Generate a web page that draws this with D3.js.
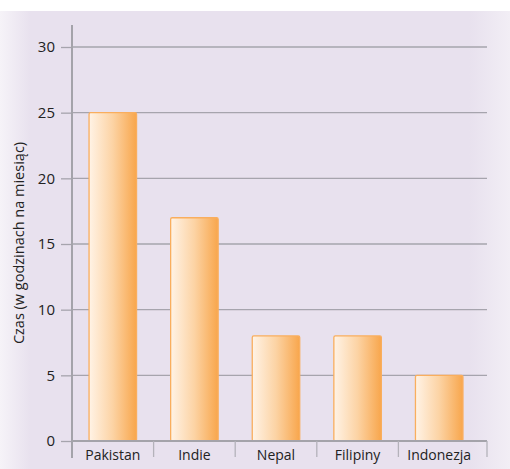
<!DOCTYPE html>
<html>
<head>
<meta charset="utf-8">
<script src="https://cdn.jsdelivr.net/npm/d3@7"></script>
<style>
  html, body { margin: 0; padding: 0; background: #ffffff; }
  svg { display: block; }
  text { font-family: "Open Sans", "DejaVu Sans", sans-serif; fill: #222; }
</style>
</head>
<body>
<script>
// Monthly time per country
const categories = ["Pakistan", "Indie", "Nepal", "Filipiny", "Indonezja"];
const values = [25, 17, 8, 8, 5];
const yTicks = [0, 5, 10, 15, 20, 25, 30];
const yLabel = "Czas (w godzinach na miesiąc)";

const W = 510, H = 469;
const svg = d3.select("body").append("svg").attr("width", W).attr("height", H);
const defs = svg.append("defs");

// panel background with faded side edges
const bg = defs.append("linearGradient").attr("id", "bg").attr("x1", 0).attr("x2", 1).attr("y1", 0).attr("y2", 0);
bg.append("stop").attr("offset", 0).attr("stop-color", "#f6f3f8");
bg.append("stop").attr("offset", 0.06).attr("stop-color", "#e8e1ee");
bg.append("stop").attr("offset", 0.92).attr("stop-color", "#e8e1ee");
bg.append("stop").attr("offset", 1).attr("stop-color", "#f2eef5");
svg.append("rect").attr("x", 0).attr("y", 11).attr("width", W).attr("height", H - 11).attr("fill", "url(#bg)");

// bar fill
const bar = defs.append("linearGradient").attr("id", "bar").attr("x1", 0).attr("x2", 1).attr("y1", 0).attr("y2", 0);
bar.append("stop").attr("offset", 0).attr("stop-color", "#fff3e6");
bar.append("stop").attr("offset", 0.5).attr("stop-color", "#fcd3a4");
bar.append("stop").attr("offset", 1).attr("stop-color", "#f8a64c");

const plotLeft = 72, plotRight = 487, plotTop = 47, plotBottom = 441;
const bandEnd = 480;
const x = d3.scaleBand().domain(categories).range([plotLeft, bandEnd]).paddingInner(0.418).paddingOuter(0.209);
const y = d3.scaleLinear().domain([0, 30]).range([plotBottom, plotTop]);

// gridlines
svg.append("g").selectAll("line").data(yTicks.filter(d => d > 0)).join("line")
  .attr("x1", plotLeft).attr("x2", plotRight)
  .attr("y1", d => y(d)).attr("y2", d => y(d))
  .attr("stroke", "#a6a4ad").attr("stroke-width", 1.3);

// y axis
const yAxis = svg.append("g").attr("transform", `translate(${plotLeft},0)`)
  .call(d3.axisLeft(y).tickValues(yTicks).tickSize(11).tickPadding(6));
yAxis.select(".domain").remove();
yAxis.selectAll(".tick line").attr("stroke", "#a6a4ad").attr("stroke-width", 1.3);
yAxis.selectAll(".tick text").attr("font-size", 15).attr("font-family", "\"Open Sans\", sans-serif").style("fill", "#222");
svg.append("line").attr("x1", plotLeft).attr("x2", plotLeft).attr("y1", 25).attr("y2", 458)
  .attr("stroke", "#a4a3aa").attr("stroke-width", 2);

// bars
svg.append("g").selectAll("rect").data(categories).join("rect")
  .attr("x", d => x(d))
  .attr("y", (d, i) => y(values[i]))
  .attr("width", x.bandwidth())
  .attr("height", (d, i) => y(0) - y(values[i]))
  .attr("rx", 1.5)
  .attr("fill", "url(#bar)")
  .attr("stroke", "#f9ae5e").attr("stroke-width", 1.3);

// x axis baseline and category separators
svg.append("line").attr("x1", plotLeft).attr("x2", plotRight).attr("y1", plotBottom).attr("y2", plotBottom)
  .attr("stroke", "#a4a3aa").attr("stroke-width", 2);
const seps = categories.slice(1).map(c => x(c) - x.step() * x.paddingInner() / 2).concat([plotRight]);
svg.append("g").selectAll("line").data(seps).join("line")
  .attr("x1", d => d).attr("x2", d => d).attr("y1", plotBottom).attr("y2", 457)
  .attr("stroke", "#b4b2ba").attr("stroke-width", 1.3);

svg.append("g").selectAll("text").data(categories).join("text")
  .attr("x", d => x(d) + x.bandwidth() / 2)
  .attr("y", 460)
  .attr("text-anchor", "middle")
  .attr("font-size", 14)
  .text(d => d);

// y title
svg.append("text")
  .attr("transform", `translate(24,243) rotate(-90)`)
  .attr("text-anchor", "middle")
  .attr("font-size", 14.5)
  .text(yLabel);
</script>
</body>
</html>
